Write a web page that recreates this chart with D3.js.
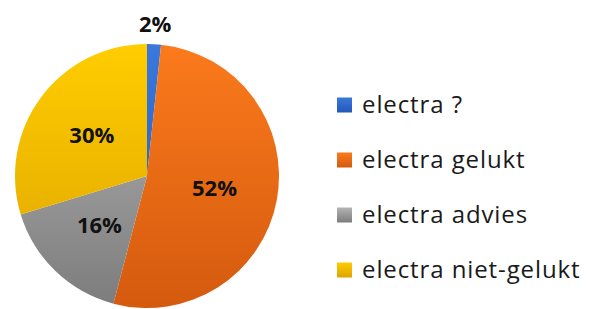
<!DOCTYPE html>
<html>
<head>
<meta charset="utf-8">
<script src="https://cdn.jsdelivr.net/npm/d3@7"></script>
<style>
  body { margin: 0; background: #fff; }
  svg { display: block; font-family: "Open Sans", Lato, sans-serif; }
</style>
</head>
<body>
<svg id="chart" width="591" height="309"></svg>
<script>
// slice data
var categories = ["electra ?", "electra gelukt", "electra advies", "electra niet-gelukt"];
var values = [1.7, 52.4, 16.2, 29.7];
var topColors = ["#3a78dc", "#fb7a1c", "#b4b4b4", "#ffcd00"];
var bottomColors = ["#2358b8", "#d45a0e", "#7c7c7c", "#dea300"];

var svg = d3.select("#chart");
var cx = 147, cy = 176, R = 132;

// vertical gradients, darker toward the bottom
var defs = svg.append("defs");
categories.forEach(function(c, i) {
  var g = defs.append("linearGradient")
    .attr("id", "grad" + i)
    .attr("gradientUnits", "userSpaceOnUse")
    .attr("x1", 0).attr("y1", -R)
    .attr("x2", 0).attr("y2", R);
  g.append("stop").attr("offset", "0%").attr("stop-color", topColors[i]);
  g.append("stop").attr("offset", "100%").attr("stop-color", bottomColors[i]);

  var lg = defs.append("linearGradient")
    .attr("id", "lg" + i)
    .attr("x1", 0).attr("y1", 0).attr("x2", 0).attr("y2", 1);
  lg.append("stop").attr("offset", "0%").attr("stop-color", topColors[i]);
  lg.append("stop").attr("offset", "100%").attr("stop-color", bottomColors[i]);
});

var pie = d3.pie().sort(null).value(function(d) { return d; });
var arcs = pie(values);
var total = d3.sum(values);

var arc = d3.arc().innerRadius(0).outerRadius(R);
var labelArc = d3.arc().innerRadius(R * 0.52).outerRadius(R * 0.52);
var outArc = d3.arc().innerRadius(R + 20).outerRadius(R + 20);

var pieG = svg.append("g").attr("transform", "translate(" + cx + "," + cy + ")");

pieG.selectAll("path")
  .data(arcs)
  .enter().append("path")
  .attr("d", arc)
  .attr("fill", function(d, i) { return "url(#grad" + i + ")"; });

// percentage labels
pieG.selectAll("text.lbl")
  .data(arcs)
  .enter().append("text")
  .attr("class", "lbl")
  .attr("transform", function(d) {
    var p = (d.value / total < 0.05) ? outArc.centroid(d) : labelArc.centroid(d);
    return "translate(" + p[0] + "," + p[1] + ")";
  })
  .attr("text-anchor", "middle")
  .attr("dy", "0.36em")
  .style("font-size", "22px")
  .style("font-weight", "bold")
  .style("fill", "#111")
  .text(function(d) { return Math.round(d.value / total * 100) + "%"; });

// legend
var legend = svg.append("g").attr("transform", "translate(337,105)");
var rows = legend.selectAll("g")
  .data(categories)
  .enter().append("g")
  .attr("transform", function(d, i) { return "translate(0," + (i * 55) + ")"; });

rows.append("rect")
  .attr("x", 0).attr("y", -7.5)
  .attr("width", 15).attr("height", 15)
  .attr("fill", function(d, i) { return "url(#lg" + i + ")"; });

rows.append("text")
  .attr("x", 25)
  .attr("dy", "0.35em")
  .style("font-size", "24px")
  .style("letter-spacing", "0.9px")
  .style("fill", "#1a1a1a")
  .text(function(d) { return d; });
</script>
</body>
</html>
